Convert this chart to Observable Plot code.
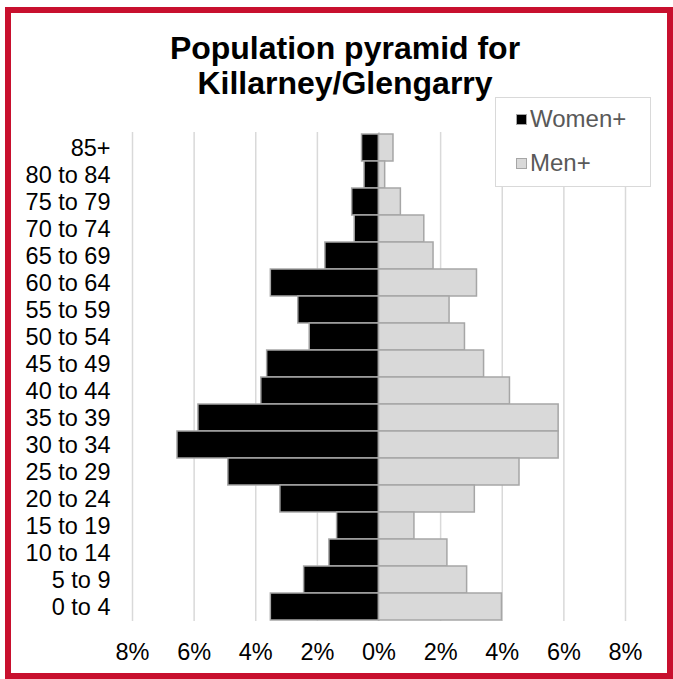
<!DOCTYPE html>
<html>
<head>
<meta charset="utf-8">
<script src="https://cdn.jsdelivr.net/npm/d3@7"></script>
<script src="https://cdn.jsdelivr.net/npm/@observablehq/plot@0.6"></script>
<style>
  html, body { margin: 0; padding: 0; background: #fff; }
  #wrap { position: relative; width: 673px; height: 679px; overflow: hidden; font-family: "Liberation Sans", Arial, sans-serif; }
  #frame { position: absolute; left: 5px; top: 7px; width: 656px; height: 660px; border: 6px solid #c8102e; pointer-events: none; }
  #title { position: absolute; left: 0; width: 690px; top: 31px; text-align: center; font-weight: bold; font-size: 32px; line-height: 35px; color: #000; }
  #legend { position: absolute; left: 495px; top: 97px; width: 156px; height: 90px; border: 1.5px solid #d9d9d9; box-sizing: border-box; background: #fff; }
  .li { position: absolute; left: 20px; font-size: 24px; color: #595959; display: flex; align-items: center; }
  .sw { width: 11px; height: 11px; border: 1.5px solid #a6a6a6; margin-right: 3px; box-sizing: border-box; }
  #chart { position: absolute; left: 0; top: 0; }
</style>
</head>
<body>
<div id="wrap">
  <div id="chart"></div>
  <div id="title">Population pyramid for<br>Killarney/Glengarry</div>
  <div id="legend"></div>
  <div id="frame"></div>
</div>
<script>
const ageGroups = ["85+", "80 to 84", "75 to 79", "70 to 74", "65 to 69", "60 to 64", "55 to 59", "50 to 54", "45 to 49", "40 to 44", "35 to 39", "30 to 34", "25 to 29", "20 to 24", "15 to 19", "10 to 14", "5 to 9", "0 to 4"];
const women = [0.55, 0.47, 0.87, 0.79, 1.74, 3.51, 2.62, 2.25, 3.63, 3.82, 5.86, 6.54, 4.89, 3.20, 1.36, 1.61, 2.43, 3.51];
const men = [0.47, 0.20, 0.71, 1.47, 1.77, 3.18, 2.29, 2.79, 3.41, 4.25, 5.83, 5.83, 4.56, 3.11, 1.15, 2.22, 2.86, 3.99];
const xTicks = [-8, -6, -4, -2, 0, 2, 4, 6, 8];
const seriesNames = ["Women+", "Men+"];
const seriesColors = ["#000000", "#d9d9d9"];

const rows = [];
ageGroups.forEach((g, i) => {
  rows.push({age: g, sex: seriesNames[0], v: -women[i]});
  rows.push({age: g, sex: seriesNames[1], v: men[i]});
});

const chart = Plot.plot({
  width: 673,
  height: 679,
  marginLeft: 132,
  marginRight: 48,
  marginTop: 132,
  marginBottom: 58,
  style: { fontFamily: "'Liberation Sans', Arial, sans-serif", fontSize: "23.5px", color: "#000", background: "transparent" },
  x: { domain: [-8, 8], ticks: xTicks, tickFormat: d => Math.abs(d) + "%", tickSize: 0, tickPadding: 22, label: null },
  y: { domain: ageGroups, padding: 0, tickSize: 0, tickPadding: 22, label: null },
  color: { domain: seriesNames, range: seriesColors },
  marks: [
    Plot.ruleX(xTicks, { stroke: "#d9d9d9", strokeWidth: 1.5, strokeOpacity: 1 }),
    Plot.barX(rows, { y: "age", x1: 0, x2: "v", fill: "sex", stroke: "#a6a6a6", strokeWidth: 1.5 })
  ]
});
document.getElementById("chart").appendChild(chart);

const legend = document.getElementById("legend");
seriesNames.forEach((n, i) => {
  const d = document.createElement("div");
  d.className = "li";
  d.style.top = (i === 0 ? 7 : 51) + "px";
  d.innerHTML = `<span class="sw" style="background:${seriesColors[i]}"></span>${n}`;
  legend.appendChild(d);
});
</script>
</body>
</html>
